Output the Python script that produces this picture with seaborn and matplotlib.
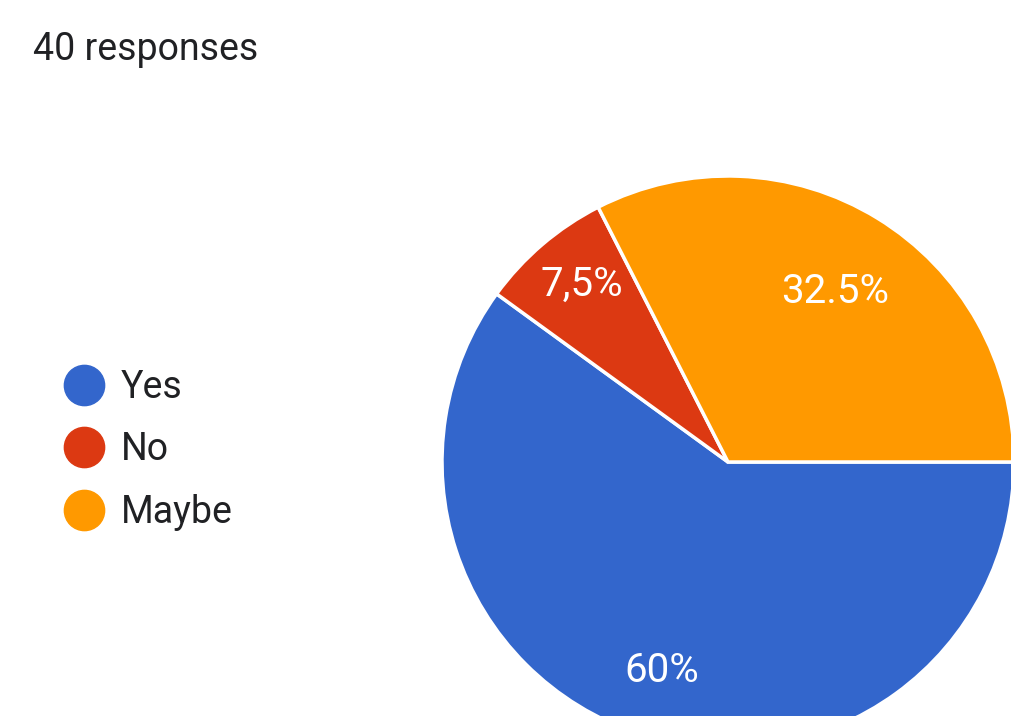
import matplotlib
matplotlib.use("Agg")
import matplotlib.pyplot as plt
from matplotlib.lines import Line2D
import seaborn as sns

# Survey answers
categories = ["Yes", "No", "Maybe"]
shares = [60.0, 7.5, 32.5]
pct_labels = ["60%", "7,5%", "32.5%"]
response_note = "40 responses"

sns.set_theme(style="white")
plt.rcParams["font.family"] = ["Roboto", "DejaVu Sans"]
colors = ["#3366CC", "#DC3912", "#FF9900"]

W, H = 1011, 716
fig = plt.figure(figsize=(W / 100, H / 100), dpi=100)
ax = fig.add_axes([0, 0, 1, 1])

wedges, texts = ax.pie(
    shares,
    colors=colors,
    startangle=0,
    counterclock=False,
    center=(728, H - 462),
    radius=286,
    labels=pct_labels,
    labeldistance=0.75,
    wedgeprops=dict(edgecolor="white", linewidth=2.5),
    textprops=dict(color="white", fontsize=29, ha="center", va="center"),
)
# small per-label nudges (in pixels) for readability inside the wedges
nudges = [(0, -4), (-7, 15), (-5, -12)]
for t, (dx, dy) in zip(texts, nudges):
    x, y = t.get_position()
    t.set_position((x + dx, y + dy))
    t.set_horizontalalignment("center")
    t.set_verticalalignment("center")

ax.set_xlim(0, W)
ax.set_ylim(0, H)
ax.set_aspect("equal")
ax.axis("off")

fig.text(33 / W, 1 - 50 / H, response_note, fontsize=27, color="#202124",
         ha="left", va="center")

handles = [Line2D([], [], marker="o", linestyle="", markersize=29,
                  markerfacecolor=c, markeredgecolor=c) for c in colors]
fig.legend(handles, categories, loc="center left",
           bbox_to_anchor=(63 / W, 1 - 450 / H),
           frameon=False, fontsize=27, handlelength=1.1,
           handletextpad=0.43, labelspacing=0.68,
           borderpad=0, borderaxespad=0, labelcolor="#202124")

fig.savefig("out.png", dpi=100, facecolor="white")
